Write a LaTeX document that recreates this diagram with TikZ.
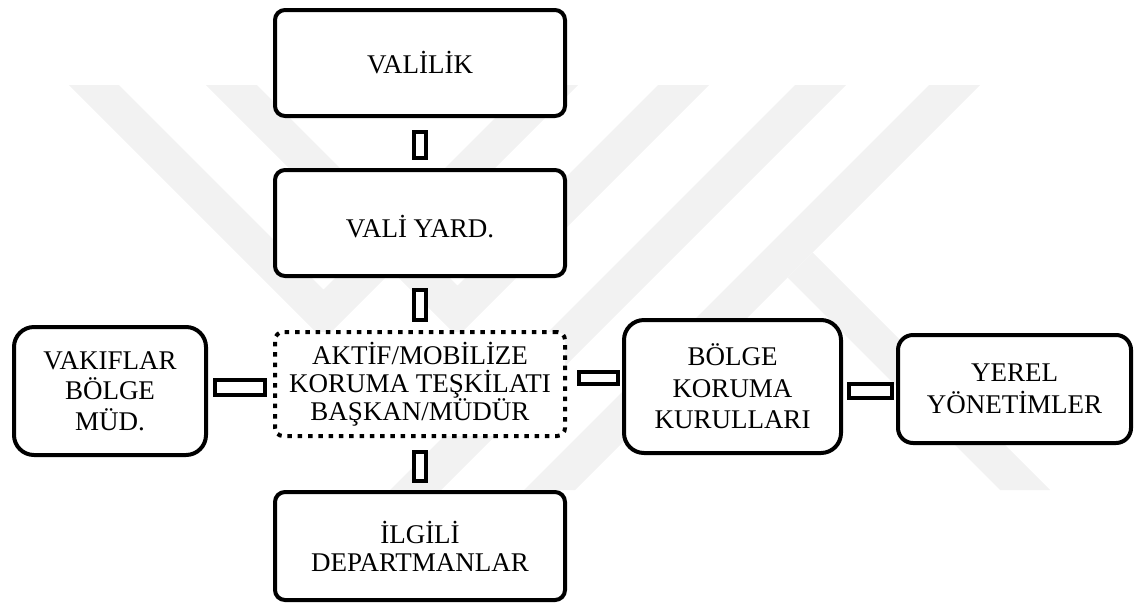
\documentclass[tikz,border=0pt]{standalone}
\usepackage{fontspec}
\setmainfont{Liberation Serif}
\usetikzlibrary{calc}
\begin{document}
\begin{tikzpicture}[x=1pt,y=-1pt,
  box/.style={draw, fill=white, line width=4pt, rounded corners=#1, inner sep=0pt, outer sep=0pt,
    align=center, font=\fontsize{27}{30}\selectfont},
  box/.default=10pt,
  dotbox/.style={draw, fill=white, line width=4pt, rounded corners=8pt, inner sep=0pt, outer sep=0pt,
    dash pattern=on 4.5pt off 5.8pt, align=center, font=\fontsize{27}{28}\selectfont},
  link/.style={draw, fill=white, line width=4pt},
  wmark/.style={fill=black!5, draw=none}
]
\useasboundingbox (0,0) rectangle (1134,603);
% watermark
\path[wmark] (69,85) -- (323.5,339.5) -- (578,85) -- (528,85) -- (323.5,289.5) -- (119,85) -- cycle;
\path[wmark] (206,85) -- (457.5,336.5) -- (709,85) -- (658,85) -- (457.5,285.5) -- (257,85) -- cycle;
\path[wmark] (795,85) -- (846,85) -- (441,490) -- (390,490) -- cycle;
\path[wmark] (929,85) -- (980,85) -- (575,490) -- (524,490) -- cycle;
\path[wmark] (787.5,277.5) -- (812.5,252.5) -- (1050,490) -- (1000,490) -- cycle;
% boxes
\node[box=10pt, minimum width=290pt, minimum height=106pt] (valilik) at (420,63) {VALİLİK};
\node[box=10pt, minimum width=290pt, minimum height=106pt] (valiyard) at (420,223) {\raisebox{-4pt}[\height][\depth]{VALİ YARD.}};
\node[dotbox, minimum width=290pt, minimum height=104pt] (center) at (420,384) {AKTİF/MOBİLİZE\\KORUMA TEŞKİLATI\\BAŞKAN/MÜDÜR};
\node[box=10pt, minimum width=290pt, minimum height=108pt, font=\fontsize{27}{28}\selectfont] (ilgili) at (420,546) {İLGİLİ\\DEPARTMANLAR};
\node[box=20pt, minimum width=192pt, minimum height=128pt, font=\fontsize{27}{30.5}\selectfont] (vakif) at (110,391) {VAKIFLAR\\BÖLGE\\MÜD.};
\node[box=20pt, minimum width=217pt, minimum height=133pt, font=\fontsize{27}{31.5}\selectfont] (bolge) at (732.5,386.5) {BÖLGE\\KORUMA\\KURULLARI};
\node[box=15pt, minimum width=233pt, minimum height=108pt, font=\fontsize{27}{32}\selectfont] (yerel) at (1014.5,389) {YEREL\\YÖNETİMLER};
% connectors
\draw[link] ($(valilik.south)+(-6,16)$) rectangle ($(valiyard.north)+(6,-12)$);
\draw[link] ($(valiyard.south)+(-6,14)$) rectangle ($(center.north)+(6,-12)$);
\draw[link] ($(center.south)+(-6,16)$) rectangle ($(ilgili.north)+(6,-11)$);
\draw[link] ($(vakif.east)+(9,-11)$) rectangle ($(center.west)+(-10,11)$);
\draw[link] ($(center.east)+(14,-12)$) rectangle ($(bolge.west)+(-6,-2.5)$);
\draw[link] ($(bolge.east)+(8,-2.5)$) rectangle ($(yerel.west)+(-6,9)$);
\end{tikzpicture}
\end{document}
